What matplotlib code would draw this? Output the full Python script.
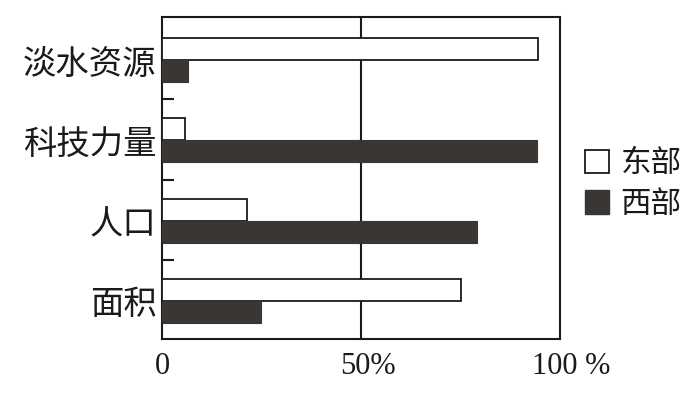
import matplotlib
matplotlib.use("Agg")
import matplotlib.pyplot as plt
import matplotlib.transforms as mtransforms
from matplotlib.patches import Patch
import numpy as np

categories = ["淡水资源", "科技力量", "人口", "面积"]
east = [94.5, 5.8, 21.4, 75.1]
west = [6.5, 94.2, 79.1, 24.9]
series_names = ["东部", "西部"]
xtick_vals = [0, 50, 100]
xtick_labels = ["0", "50%", "100 %"]

W, H = 691, 404
fig = plt.figure(figsize=(W / 100, H / 100), dpi=100)
ax = fig.add_axes([162 / W, (H - 339) / H, 398 / W, 322 / H])

cjk = ["Noto Sans CJK SC", "DejaVu Sans"]
dark = "#3a3634"
h = 0.275
y = np.arange(len(categories))

ax.barh(y - h / 2, east, height=h, color="white", edgecolor="#1a1a1a", linewidth=1.3, zorder=3)
ax.barh(y + h / 2, west, height=h, color=dark, edgecolor=dark, linewidth=0.8, zorder=3)

ax.axvline(50, color="#1a1a1a", linewidth=1.5, zorder=2)

ax.set_xlim(0, 100)
ax.set_ylim(len(categories) - 1 + 0.473, -0.535)

for s in ax.spines.values():
    s.set_linewidth(1.5)
    s.set_color("#1a1a1a")

ax.set_yticks(y)
ax.set_yticklabels(categories, fontsize=24, family=cjk, color="#1a1a1a")
ax.tick_params(axis="y", which="major", length=0, pad=4)
ax.set_yticks(y[:-1] + 0.49, minor=True)
ax.tick_params(axis="y", which="minor", direction="in", length=8.6, width=1.5, color="#1a1a1a")

ax.set_xticks(xtick_vals)
ax.set_xticklabels(xtick_labels, fontsize=22, family="Liberation Serif", color="#1a1a1a")
ax.tick_params(axis="x", length=0, pad=9)
offsets = [0, 7, 11]
for lab, dx in zip(ax.get_xticklabels(), offsets):
    lab.set_transform(lab.get_transform() + mtransforms.ScaledTranslation(dx / 100, 0, fig.dpi_scale_trans))

handles = [Patch(facecolor="white", edgecolor="#1a1a1a", linewidth=1.3),
           Patch(facecolor=dark, edgecolor=dark)]
leg = fig.legend(handles, series_names, loc="center left",
                 bbox_to_anchor=(585 / W, (H - 184) / H), frameon=False,
                 prop={"family": cjk, "size": 22}, handlelength=0.8, handleheight=0.8,
                 handletextpad=0.36, labelspacing=0.3, borderpad=0, borderaxespad=0)
for t in leg.get_texts():
    t.set_color("#1a1a1a")

fig.savefig("out.png", dpi=100)
